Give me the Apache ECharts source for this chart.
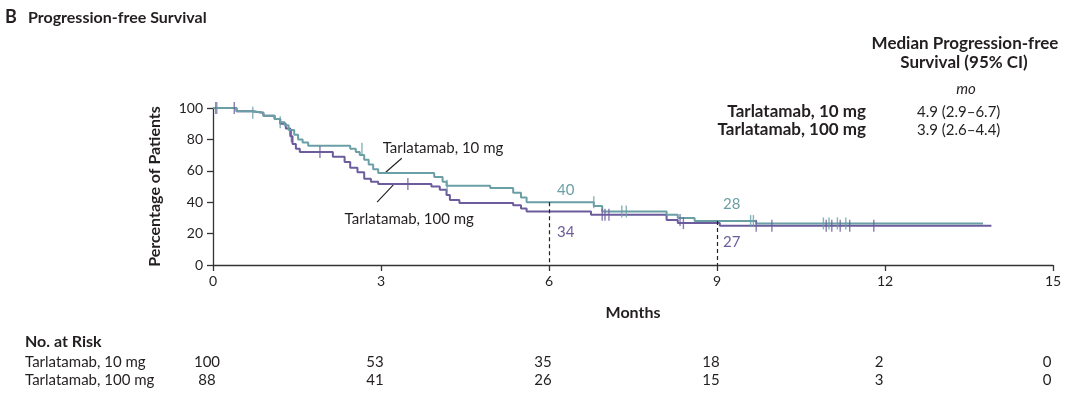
<!DOCTYPE html>
<html>
<head>
<meta charset="utf-8">
<script src="https://cdn.jsdelivr.net/npm/echarts@6/dist/echarts.min.js"></script>
<style>
  html, body { margin: 0; padding: 0; background: #fff; }
  #main { width: 1080px; height: 397px; }
</style>
</head>
<body>
<div id="main"></div>
<script type="text/javascript">
    // data: [months, percent]
    var pfs10 = [[0,100],[0.42,98],[0.7,97],[0.9,95],[1.1,93],[1.2,91],[1.28,89],[1.35,86],[1.45,83],[1.52,80],[1.6,78],[1.7,76],
        [2.45,74],[2.55,72],[2.62,70],[2.7,67],[2.78,64],[2.86,61],[2.95,58.6],[3.95,56],[4.1,53],[4.17,50.5],[4.95,49],
        [5.36,46],[5.5,43],[5.6,40],[6.8,37.6],[6.95,34],[8.1,32],[8.3,30],[8.6,28],[9.7,26.5],[13.75,26.5]];
    var pfs100 = [[0,100],[0.42,98],[0.7,97],[0.9,95],[1.1,93],[1.2,90],[1.3,87],[1.38,82],[1.42,77],[1.48,74],[1.55,72],
        [2.14,69],[2.35,65.6],[2.45,62],[2.58,59],[2.7,55],[2.82,53],[2.95,51.6],[3.9,50],[4.05,48],[4.17,44.6],[4.23,41.4],
        [4.4,39.5],[5.36,38],[5.5,36],[5.6,34],[6.75,32],[8.1,28.7],[8.3,26.7],[9.05,25],[13.9,25]];
    var censor10 = [[0.07,100],[0.71,97],[1.2,91],[2.66,74],[4.18,50.5],[6.8,40],[7.3,34],[7.38,34],[9.6,28],[9.65,28],
        [10.9,26.5],[11.0,26.5],[11.15,26.5],[11.3,26.5]];
    var censor100 = [[0.05,100],[0.38,100],[1.4,82],[1.91,72],[3.48,51.6],[6.95,32],[7.0,32],[7.07,32],[8.34,28.7],[8.4,26.7],
        [9.7,25],[9.98,25],[10.95,25],[11.05,25],[11.2,25],[11.37,25],[11.8,25]];
    var xTicks = [0, 3, 6, 9, 12, 15];
    var groups = ['Tarlatamab, 10 mg', 'Tarlatamab, 100 mg'];
    var atRisk10 = [100, 53, 35, 18, 2, 0];
    var atRisk100 = [88, 41, 26, 15, 3, 0];
    var medians = ['4.9 (2.9\u20136.7)', '3.9 (2.6\u20134.4)'];
    var callout10 = [6, 40];
    var callout100 = [6, 34];
    var callout10b = [9, 28];
    var callout100b = [9, 27];

    var TEAL = '#6b9fa6';
    var PURPLE = '#6c5c9c';
    var FONT = 'Lato, "Open Sans", sans-serif';
    var INK = '#231f20';

    var myChart = echarts.init(document.getElementById('main'));

    function dashed(p) {
        return [{coord: [p[0], p[1]]}, {coord: [p[0], 0]}];
    }

    var option = {
        animation: false,
        grid: { left: 213, right: 27, top: 108, bottom: 132 },
        xAxis: {
            type: 'value', min: 0, max: 15, interval: 3,
            name: 'Months', nameLocation: 'middle', nameGap: 40,
            nameTextStyle: { fontFamily: FONT, fontWeight: 'bold', fontSize: 16, color: INK },
            axisLine: { lineStyle: { color: '#333', width: 1.3 } },
            axisTick: { length: 6, lineStyle: { color: '#333', width: 1.3 } },
            axisLabel: { fontFamily: FONT, fontSize: 14, color: INK, margin: 9 },
            splitLine: { show: false }
        },
        yAxis: {
            type: 'value', min: 0, max: 100, interval: 20,
            name: 'Percentage of Patients', nameLocation: 'middle', nameGap: 50,
            nameTextStyle: { fontFamily: FONT, fontWeight: 'bold', fontSize: 16, color: INK },
            axisLine: { show: true, lineStyle: { color: '#333', width: 1.3 } },
            axisTick: { show: true, length: 6, lineStyle: { color: '#333', width: 1.3 } },
            axisLabel: { fontFamily: FONT, fontSize: 14, color: INK, margin: 10 },
            splitLine: { show: false }
        },
        series: [
            {
                name: groups[0], type: 'line', step: 'end', data: pfs10, showSymbol: false,
                lineStyle: { color: TEAL, width: 2 }, z: 3,
                markLine: {
                    silent: true, symbol: 'none', label: { show: false },
                    lineStyle: { color: '#222', type: [4, 3], width: 1.2 },
                    data: [dashed(callout10), dashed(callout10b)]
                }
            },
            {
                name: groups[1], type: 'line', step: 'end', data: pfs100, showSymbol: false,
                lineStyle: { color: PURPLE, width: 2 }, z: 2
            },
            {
                type: 'scatter', data: censor10, symbol: 'rect', symbolSize: [1.4, 12],
                itemStyle: { color: TEAL }, z: 4
            },
            {
                type: 'scatter', data: censor100, symbol: 'rect', symbolSize: [1.4, 12],
                itemStyle: { color: PURPLE }, z: 4
            }
        ]
    };
    myChart.setOption(option);

    function px(p) { return myChart.convertToPixel({gridIndex: 0}, p); }
    function txt(x, y, s, o) {
        o = o || {};
        return {
            type: 'text', x: x, y: y, silent: true,
            style: {
                text: s, fontFamily: FONT, fontSize: o.size || 15, fontWeight: o.bold ? 'bold' : 'normal',
                fontStyle: o.italic ? 'italic' : 'normal', fill: o.color || INK,
                align: o.align || 'left', verticalAlign: 'middle'
            }
        };
    }
    function seg(a, b) {
        var p = px(a), q = px(b);
        return { type: 'line', silent: true, shape: { x1: p[0], y1: p[1], x2: q[0], y2: q[1] },
            style: { stroke: INK, lineWidth: 1.1 } };
    }

    var g = [];
    g.push(txt(5, 17, 'B', { bold: true, size: 18 }));
    g.push(txt(28, 18, 'Progression-free Survival', { bold: true, size: 16 }));

    // medians panel
    g.push(txt(965, 44, 'Median Progression-free', { bold: true, size: 17, align: 'center' }));
    g.push(txt(964, 63, 'Survival (95% CI)', { bold: true, size: 17, align: 'center' }));
    g.push(txt(966, 89, 'mo', { italic: true, size: 15, align: 'center' }));
    for (var i = 0; i < groups.length; i++) {
        g.push(txt(866, 112 + i * 18, groups[i], { bold: true, size: 17, align: 'right' }));
        g.push(txt(917, 112 + i * 18, medians[i], { size: 15 }));
    }

    // curve labels and pointers
    var l10 = px([3.03, 74.5]);
    g.push(txt(l10[0], l10[1], groups[0], { size: 15 }));
    g.push(seg([3.07, 58.6], [3.37, 68]));
    var l100 = px([2.35, 29.5]);
    g.push(txt(l100[0], l100[1], groups[1], { size: 15 }));
    g.push(seg([2.93, 40], [3.22, 51]));

    // callout numbers
    var c;
    c = px(callout10); g.push(txt(c[0] + 8, c[1] - 12, String(callout10[1]), { color: TEAL, size: 15 }));
    c = px(callout100); g.push(txt(c[0] + 8, c[1] + 21, String(callout100[1]), { color: PURPLE, size: 15 }));
    c = px(callout10b); g.push(txt(c[0] + 6, c[1] - 17, String(callout10b[1]), { color: TEAL, size: 15 }));
    c = px(callout100b); g.push(txt(c[0] + 6, c[1] + 20, String(callout100b[1]), { color: PURPLE, size: 15 }));

    // number at risk
    g.push(txt(25, 342, 'No. at Risk', { bold: true, size: 16 }));
    g.push(txt(25, 362, groups[0], { size: 15 }));
    g.push(txt(25, 380, groups[1], { size: 15 }));
    for (var k = 0; k < xTicks.length; k++) {
        var xp = px([xTicks[k], 0])[0] - 6;
        g.push(txt(xp, 362, String(atRisk10[k]), { size: 15, align: 'center' }));
        g.push(txt(xp, 380, String(atRisk100[k]), { size: 15, align: 'center' }));
    }

    myChart.setOption({ graphic: g });
</script>
</body>
</html>
